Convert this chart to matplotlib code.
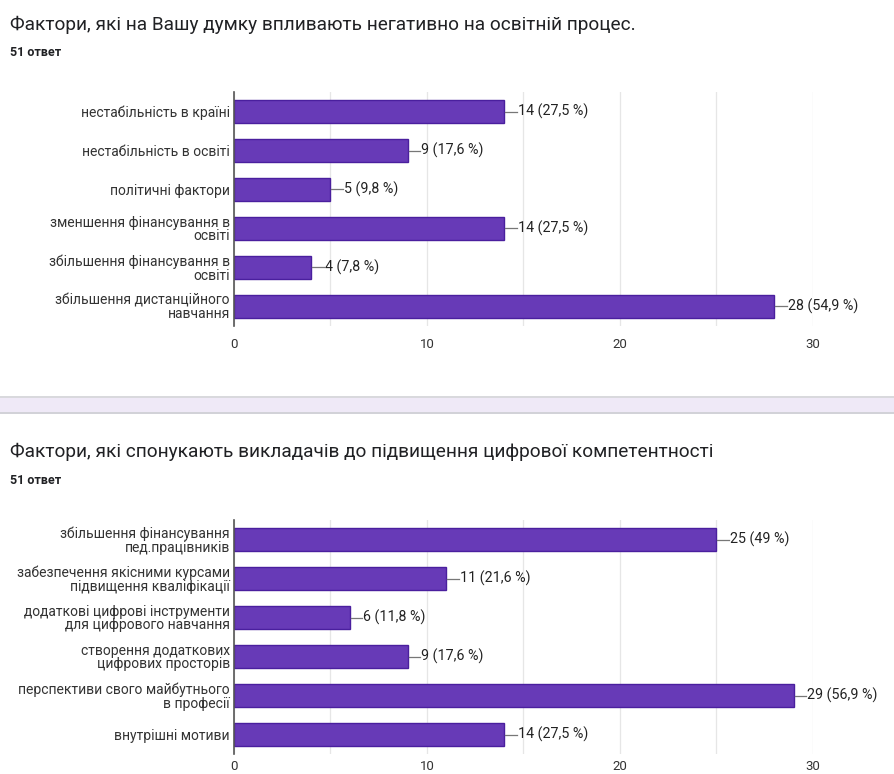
import matplotlib.pyplot as plt
from matplotlib.patches import Rectangle

plt.rcParams['font.family'] = ['Roboto', 'DejaVu Sans']

title1 = 'Фактори, які на Вашу думку впливають негативно на освітній процес.'
labels1 = ['нестабільність в країні', 'нестабільність в освіті', 'політичні фактори',
           'зменшення фінансування в\nосвіті', 'збільшення фінансування в\nосвіті',
           'збільшення дистанційного\nнавчання']
counts1 = [14, 9, 5, 14, 4, 28]
pct1 = ['27,5', '17,6', '9,8', '27,5', '7,8', '54,9']

title2 = 'Фактори, які спонукають викладачів до підвищення цифрової компетентності'
labels2 = ['збільшення фінансування\nпед.працівників', 'забезпечення якісними курсами\nпідвищення кваліфікації',
           'додаткові цифрові інструменти\nдля цифрового навчання', 'створення додаткових\nцифрових просторів',
           'перспективи свого майбутнього\nв професії', 'внутрішні мотиви']
counts2 = [25, 11, 6, 9, 29, 14]
pct2 = ['49', '21,6', '11,8', '17,6', '56,9', '27,5']

answers = '51 ответ'
xticks = [0, 10, 20, 30]

W, H = 895, 774
fig = plt.figure(figsize=(W / 100, H / 100), dpi=100)


def draw(ax, labels, counts, pct, pad):
    y = list(range(len(labels)))
    ax.barh(y, counts, height=0.57, color='#673ab7', edgecolor='#4a1f9e', linewidth=1, zorder=3)
    for yi, c, p in zip(y, counts, pct):
        ax.plot([c + 0.05, c + 0.65], [yi, yi], color='#777777', lw=0.9, zorder=3)
        ax.text(c + 0.7, yi, f'{c} ({p} %)', va='center', ha='left', fontsize=10.3,
                color='#222222')
    ax.set_xlim(0, 30)
    ax.set_ylim(len(labels) - 0.5, -0.5)
    ax.set_yticks(y)
    ax.set_yticklabels(labels, fontsize=10, color='#333333', linespacing=0.95)
    ax.set_xticks(xticks)
    ax.set_xticks([5, 15, 25], minor=True)
    ax.tick_params(axis='x', length=0, which='both', labelsize=9.5, colors='#333333', pad=pad)
    ax.tick_params(axis='y', length=0, pad=3)
    ax.grid(axis='x', which='both', color='#e6e6e6', lw=0.9, zorder=0)
    for s in ['top', 'right', 'bottom']:
        ax.spines[s].set_visible(False)
    ax.spines['left'].set_color('#555555')
    ax.spines['left'].set_linewidth(1.2)
    ax.spines['left'].set_zorder(4)


ax1 = fig.add_axes([234 / W, 1 - 326 / H, (813 - 234) / W, 234 / H])
draw(ax1, labels1, counts1, pct1, 9)
ax2 = fig.add_axes([234 / W, 1 - 754 / H, (813 - 234) / W, 234 / H])
draw(ax2, labels2, counts2, pct2, 4)

fig.text(10 / W, 1 - 25 / H, title1, fontsize=13.7, color='#202124', va='center')
fig.text(10 / W, 1 - 52 / H, answers, fontsize=9, fontweight='bold', color='#202124', va='center')
fig.text(10 / W, 1 - 452 / H, title2, fontsize=13.7, color='#202124', va='center')
fig.text(10 / W, 1 - 481 / H, answers, fontsize=9, fontweight='bold', color='#202124', va='center')

# separator band between the two cards
fig.patches.append(Rectangle((0, 1 - 414 / H), 1, 18 / H, transform=fig.transFigure,
                             facecolor='#efe9f7', edgecolor='none'))
fig.patches.append(Rectangle((0, 1 - 398 / H), 1, 2 / H, transform=fig.transFigure,
                             facecolor='#d9d9dd', edgecolor='none'))
fig.patches.append(Rectangle((0, 1 - 414 / H), 1, 2 / H, transform=fig.transFigure,
                             facecolor='#d2d2d8', edgecolor='none'))

fig.savefig('out.png', dpi=100)
